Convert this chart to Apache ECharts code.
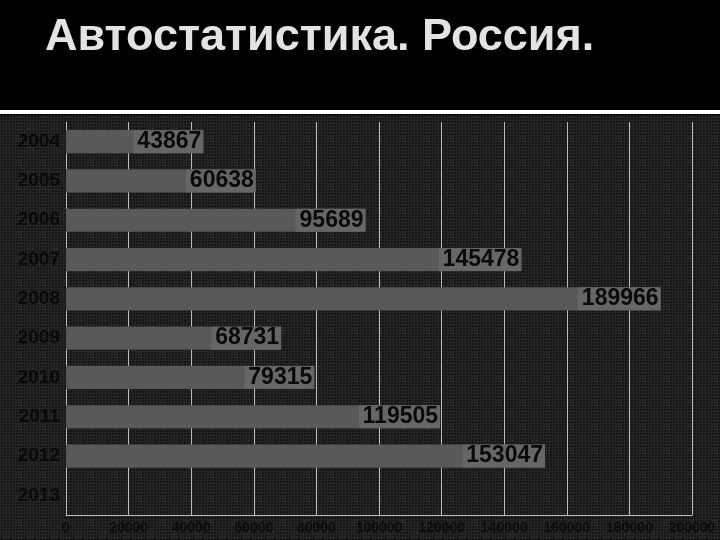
<!DOCTYPE html>
<html>
<head>
<meta charset="utf-8">
<script src="https://cdn.jsdelivr.net/npm/echarts@6/dist/echarts.min.js"></script>
<style>
  html, body { margin: 0; padding: 0; background: #000; }
  #chart { width: 720px; height: 540px; }
</style>
</head>
<body>
<div id="chart"></div>
<script>
// данные
var years = ['2004', '2005', '2006', '2007', '2008', '2009', '2010', '2011', '2012', '2013'];
var cars = [43867, 60638, 95689, 145478, 189966, 68731, 79315, 119505, 153047, null];
var axisMax = 200000;
var axisStep = 20000;

// текстура фона (тёмная сетка с точками)
function makeTexture() {
    var c = document.createElement('canvas');
    c.width = 24;
    c.height = 24;
    var ctx = c.getContext('2d');
    ctx.fillStyle = '#151515';
    ctx.fillRect(0, 0, 24, 24);
    ctx.fillStyle = '#262626';
    for (var i = 0; i < 24; i += 3) {
        ctx.fillRect(i, 0, 1, 24);
        ctx.fillRect(0, i, 24, 1);
    }
    ctx.fillStyle = '#333';
    for (var x = 4; x < 10; x += 2) {
        for (var y = 4; y < 10; y += 2) {
            ctx.fillRect(x, y, 1, 1);
            ctx.fillRect(x + 12, y + 12, 1, 1);
        }
    }
    return c;
}

var myChart = echarts.init(document.getElementById('chart'));

var option = {
    backgroundColor: '#000',
    animation: false,
    title: {
        text: 'Автостатистика. Россия.',
        left: 40,
        top: 10,
        textStyle: {
            color: '#e3e3e3',
            fontFamily: 'Liberation Sans',
            fontWeight: 'bold',
            fontSize: 45
        }
    },
    graphic: [
        {
            type: 'rect',
            z: -10,
            silent: true,
            shape: {x: 0, y: 115, width: 720, height: 425},
            style: {fill: {image: makeTexture(), repeat: 'repeat'}}
        },
        {
            type: 'rect',
            z: -9,
            silent: true,
            shape: {x: 0, y: 110, width: 720, height: 4},
            style: {fill: '#ffffff'}
        }
    ],
    grid: {
        left: 66,
        right: 28,
        top: 122,
        bottom: 25
    },
    xAxis: {
        type: 'value',
        min: 0,
        max: axisMax,
        interval: axisStep,
        axisLine: {show: true, lineStyle: {color: '#bdbdbd', width: 1}},
        axisTick: {show: false},
        splitLine: {show: true, lineStyle: {color: '#bdbdbd', width: 1}},
        axisLabel: {
            color: '#0c0c0c',
            fontFamily: 'Liberation Sans',
            fontWeight: 'bold',
            fontSize: 14,
            margin: 6,
            formatter: function (v) { return String(v); }
        }
    },
    yAxis: {
        type: 'category',
        inverse: true,
        data: years,
        axisLine: {show: true, lineStyle: {color: '#bdbdbd', width: 1}},
        axisTick: {show: false},
        axisLabel: {
            color: '#0a0a0a',
            fontFamily: 'Liberation Sans',
            fontWeight: 'bold',
            fontSize: 19,
            margin: 6
        }
    },
    series: [
        {
            type: 'bar',
            data: cars,
            barCategoryGap: '41%',
            itemStyle: {color: '#595959'},
            label: {
                show: true,
                position: 'insideRight',
                distance: 0,
                color: '#0a0a0a',
                fontFamily: 'Liberation Sans',
                fontWeight: 'bold',
                fontSize: 23,
                backgroundColor: '#666666',
                padding: [0, 2, 0, 4]
            }
        }
    ]
};

myChart.setOption(option, true);
</script>
</body>
</html>
